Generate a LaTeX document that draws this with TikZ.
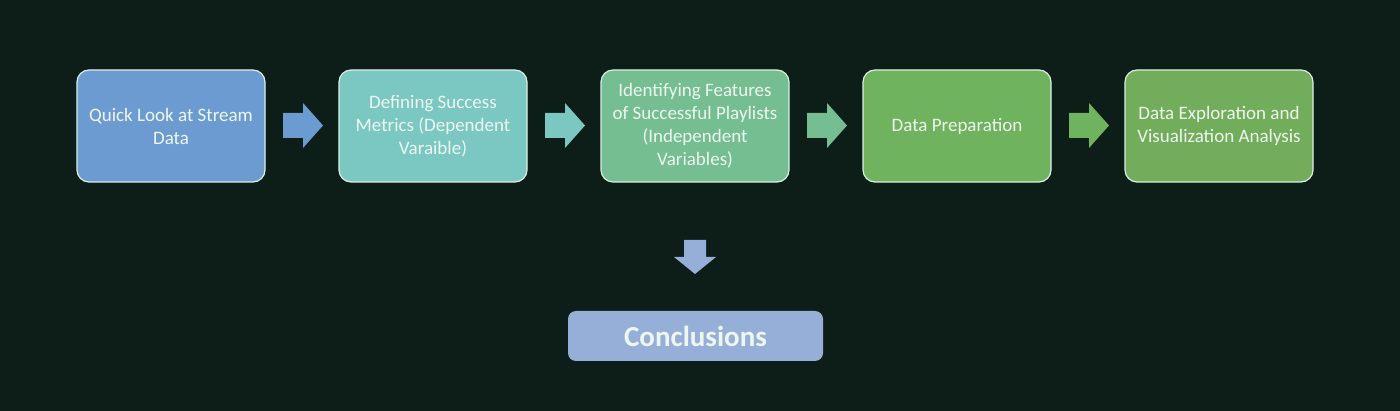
\documentclass[tikz,border=0pt]{standalone}
\usepackage{fontspec}
\setmainfont{Carlito}
\definecolor{bg}{HTML}{0D1D17}
\definecolor{cA}{HTML}{6C9BD2}
\definecolor{cB}{HTML}{7BC8C3}
\definecolor{cC}{HTML}{74BE92}
\definecolor{cD}{HTML}{70B35E}
\definecolor{cE}{HTML}{72AD5B}
\definecolor{cF}{HTML}{95AFD9}
\definecolor{txt}{HTML}{EEF7EF}
\definecolor{edge}{HTML}{DCEFE4}
\begin{document}
\begin{tikzpicture}[x=1pt,y=-1pt,
  stepbox/.style={draw=edge,line width=1.2pt,rounded corners=12pt,minimum width=188pt,minimum height=112pt,
    align=center,text=txt,font=\fontsize{19}{23}\selectfont,inner sep=0pt},
  concbox/.style={rounded corners=8pt,minimum width=255pt,minimum height=50pt,fill=cF,
    text=txt,font=\fontsize{29}{34}\selectfont\bfseries,inner sep=0pt}]
\fill[bg] (0,0) rectangle (1400,411);
\useasboundingbox (0,0) rectangle (1400,411);

\node[stepbox,fill=cA] (b1) at (171,126) {Quick Look at Stream\\Data};
\node[stepbox,fill=cB] (b2) at (433,126) {Defining Success\\Metrics (Dependent\\Varaible)};
\node[stepbox,fill=cC] (b3) at (695,126) {Identifying Features\\of Successful Playlists\\(Independent\\Variables)};
\node[stepbox,fill=cD] (b4) at (957,126) {Data Preparation};
\node[stepbox,fill=cE] (b5) at (1219,126) {Data Exploration and\\Visualization Analysis};

\foreach \c/\col in {303/cA,565/cB,827/cC,1089/cD}{
  \fill[\col] (\c-20,113) -- (\c,113) -- (\c,103) -- (\c+20,125.5) -- (\c,148) -- (\c,138) -- (\c-20,138) -- cycle;
}

\fill[cF] (684,240) -- (706,240) -- (706,257) -- (716,257) -- (695,274) -- (674,257) -- (684,257) -- cycle;

\node[concbox] (c) at (695.5,336) {Conclusions};
\end{tikzpicture}
\end{document}
